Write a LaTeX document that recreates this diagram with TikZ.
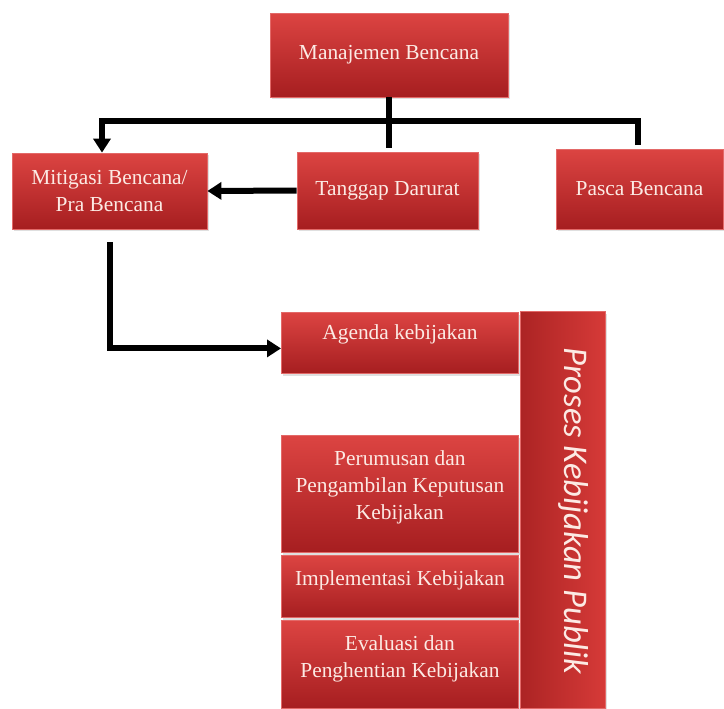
\documentclass[tikz,border=0pt]{standalone}
\usepackage{fontspec}
\setmainfont{Liberation Serif}
\newfontfamily\judulfont{Carlito}
\usetikzlibrary{arrows.meta,positioning,shadows}
\definecolor{merahatas}{RGB}{220,68,66}
\definecolor{merahbawah}{RGB}{166,30,32}
\definecolor{merahkiri}{RGB}{172,36,36}
\definecolor{merahkanan}{RGB}{214,58,56}
\definecolor{tekskotak}{RGB}{252,234,228}
\tikzset{
  kotak/.style={top color=merahatas, bottom color=merahbawah, draw=merahatas!80!white, line width=.4pt,
    drop shadow={opacity=.25, shadow xshift=.8pt, shadow yshift=-1.2pt}, inner sep=2pt,
    text=tekskotak, align=center, font=\fontsize{10.7}{13.5}\selectfont},
  teks/.style={text=tekskotak, align=center, inner sep=1pt, font=\fontsize{10.7}{13.5}\selectfont},
  garis/.style={line width=3pt},
  panah/.style={line width=3pt, -{Triangle[length=7pt,width=8.5pt]}}
}
\begin{document}
\begin{tikzpicture}[x=.5pt,y=-.5pt]
\useasboundingbox (0,0) rectangle (724,708);
\node[kotak, minimum width=119pt, minimum height=42pt](manaj) at (389,55){Manajemen Bencana};
\node[kotak, minimum width=97.5pt, minimum height=38pt](mitig) at (109.5,191){Mitigasi Bencana/\\Pra Bencana};
\node[kotak, minimum width=90.5pt, minimum height=38.5pt](tanggap) at (387.5,190.5){Tanggap Darurat};
\node[kotak, minimum width=83.5pt, minimum height=40pt](pasca) at (639.5,189){Pasca Bencana};
\node[kotak, anchor=north west, minimum width=118.5pt, minimum height=30.5pt](agenda) at (281,312){};
\node[kotak, anchor=north west, minimum width=118.5pt, minimum height=58.5pt](rumus) at (281,435){};
\node[kotak, anchor=north west, minimum width=118.5pt, minimum height=31pt](imple) at (281,555){};
\node[kotak, anchor=north west, minimum width=118.5pt, minimum height=44pt](evalu) at (281,620){};
\node[kotak, anchor=north west, minimum width=42.5pt, minimum height=198.5pt, shading angle=90,
  left color=merahkiri, right color=merahkanan](proses) at (520,311){};
\node[teks, below=5pt of agenda.north](tagenda){Agenda kebijakan};
\node[teks, below=6.5pt of rumus.north](trumus){Perumusan dan\\Pengambilan Keputusan\\Kebijakan};
\node[teks, below=6.5pt of imple.north](timple){Implementasi Kebijakan};
\node[teks, below=6.5pt of evalu.north](tevalu){Evaluasi dan\\Penghentian Kebijakan};
\node[rotate=-90, text=tekskotak, font=\judulfont\itshape\fontsize{17.3}{18}\selectfont](judul)
  at ([xshift=5.5pt,yshift=-0.5pt]proses.center){Proses Kebijakan Publik};
\coordinate (ujungtengah) at (389,148);
\coordinate (ujungkanan) at (638,145);
\coordinate (simpang) at (389,121);
\coordinate (awal) at ([yshift=-6.5pt]mitig.south);
\draw[garis](manaj.south)--(ujungtengah);
\draw[panah](ujungkanan)|-(simpang)-|([xshift=-3.75pt]mitig.north);
\draw[panah](tanggap.west)--(mitig.east);
\draw[panah](awal)|-([yshift=-2.75pt]agenda.west);
\end{tikzpicture}
\end{document}
